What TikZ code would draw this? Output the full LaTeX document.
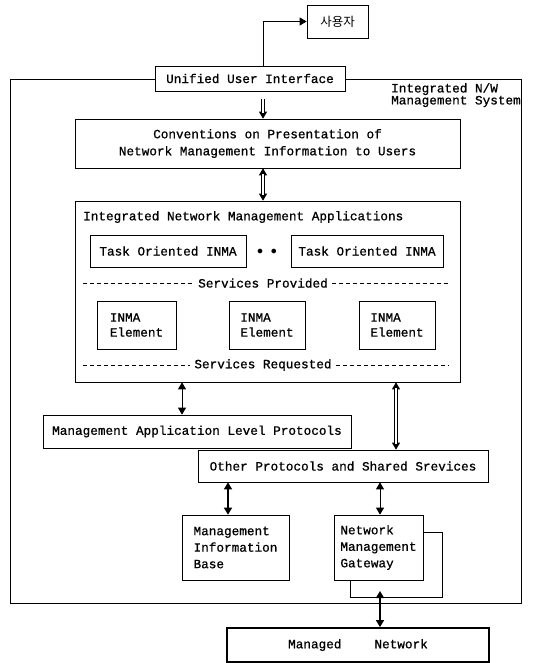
\documentclass[tikz,border=0pt]{standalone}
\usepackage{fontspec}
\setmonofont{Liberation Mono}[FakeBold=0.8]
\newfontfamily\korfont{Noto Sans CJK KR}
\usetikzlibrary{arrows.meta}
\tikzset{
    %Define standard arrow tip
    >={Triangle[width=8pt,length=7pt]},
}

\begin{document}
\begin{tikzpicture}[
  x=1pt, y=-1pt,
  every node/.style = {shape=rectangle, align=center, inner sep=0pt,
                       font=\ttfamily\fontsize{12.7}{17}\selectfont},
  bx/.style = {draw, line width=.7pt, fill=white},
  txt/.style = {align=left},
  gap/.style = {white, line width=1.9pt, shorten <=6pt, shorten >=6pt},
  lft/.style = {line width=.6pt, transform canvas={xshift=-1.3pt}},
  rgt/.style = {line width=.6pt, transform canvas={xshift=1.3pt}},
  svc/.style = {line width=.7pt, dash pattern=on 4pt off 3pt},
  con/.style = {line width=.8pt} ]
  \useasboundingbox (0,0) rectangle (541,663);
  % columns of the connectors
  \coordinate (colM) at (263,0);
  \coordinate (colA) at (182,0);
  \coordinate (colB) at (396,0);
  \coordinate (colC) at (228,0);
  \coordinate (colD) at (380,0);
  % whole system
  \node [draw, line width=.7pt, minimum width=511, minimum height=524] (sys) at (265.5,341) {};
  \node [txt, anchor=north west, font=\ttfamily\fontsize{12.7}{12}\selectfont]
    (sysname) at (391,83) {Integrated N/W\\Management System};
  \node [bx, minimum width=61, minimum height=33, font=\korfont\fontsize{12.5}{14}\selectfont]
    (user) at (337.5,21.5) {사용자};
  \node [bx, minimum width=190, minimum height=25] (uui) at (250,78.5) {Unified User Interface};
  \node [bx, minimum width=385, minimum height=49] (conv) at (267.5,143.5)
    {Conventions on Presentation of\\Network Management Information to Users};
  % applications
  \node [bx, minimum width=385, minimum height=181] (inma) at (267.5,291.5) {};
  \node [anchor=west] (inmatitle) at (83,217) {Integrated Network Management Applications};
  \node [bx, minimum width=156, minimum height=32] (task1) at (168,251) {Task Oriented INMA};
  \node [bx, minimum width=152, minimum height=32] (task2) at (367,251) {Task Oriented INMA};
  \node (dots) at (267,252) {$\bullet$\hspace{8pt}$\bullet$};
  \coordinate (provL) at (83,283);
  \coordinate (provR) at (448,283);
  \node [fill=white, inner xsep=4pt] (prov) at (263,283) {Services Provided};
  \draw [svc] (provL) -- (prov.west);
  \draw [svc] (prov.east) -- (provR);
  \foreach \name/\x/\w in {elem1/136.5/79, elem2/267/76, elem3/397/76}
    \node [bx, txt, minimum width=\w, minimum height=48,
           font=\ttfamily\fontsize{12.7}{15}\selectfont] (\name) at (\x,325) {INMA\\Element};
  \coordinate (reqL) at (83,365);
  \coordinate (reqR) at (448,365);
  \node [fill=white, inner xsep=4pt] (req) at (263,365) {Services Requested};
  \draw [svc] (reqL) -- (req.west);
  \draw [svc] (req.east) -- (reqR);
  % protocols
  \node [bx, minimum width=308, minimum height=33] (malp) at (197,431.5)
    {Management Application Level Protocols};
  \node [bx, minimum width=290, minimum height=32] (opss) at (343,466)
    {Other Protocols and Shared Srevices};
  \node [bx, txt, minimum width=107, minimum height=65,
         font=\ttfamily\fontsize{12.7}{16.5}\selectfont] (mib) at (235.5,547.5)
    {Management\\Information\\Base};
  \node [bx, txt, minimum width=89, minimum height=65,
         font=\ttfamily\fontsize{12.7}{16.5}\selectfont] (nmg) at (378.5,547.5)
    {Network\\Management\\Gateway};
  \node [bx, line width=1.8pt, minimum width=262, minimum height=34] (mn) at (358,645)
    {Managed\hspace{33pt}Network};
  % connectors
  \draw [con, ->] (uui.north -| colM) |- (user.west);
  \draw [con, ->, shorten <=8pt] (uui.south -| colM) -- (conv.north -| colM);
  \draw [con, <->] (conv.south -| colM) -- (inma.north -| colM);
  \draw [con, <->] (inma.south -| colB) -- (opss.north -| colB);
  \draw [gap, shorten <=8pt] (uui.south -| colM) -- (conv.north -| colM);
  \draw [gap] (conv.south -| colM) -- (inma.north -| colM);
  \draw [gap] (inma.south -| colB) -- (opss.north -| colB);
  \foreach \side in {lft, rgt} {
    \draw [\side, shorten <=8pt, shorten >=6pt] (uui.south -| colM) -- (conv.north -| colM);
    \draw [\side, shorten <=6pt, shorten >=6pt] (conv.south -| colM) -- (inma.north -| colM);
    \draw [\side, shorten <=6pt, shorten >=6pt] (inma.south -| colB) -- (opss.north -| colB);
  }
  \draw [con, <->] (inma.south -| colA) -- (malp.north -| colA);
  \draw [con, line width=1.6pt, <->] (opss.south -| colC) -- (mib.north -| colC);
  \draw [con, <->] (opss.south -| colD) -- (nmg.north -| colD);
  % gateway loop
  \coordinate (loopL) at (350,597);
  \coordinate (loopR) at (442,597);
  \coordinate (loopT) at (442,532);
  \coordinate (loopTip) at (380,591);
  \draw [con] (nmg.south -| loopL) -- (loopL) -- (loopR) -- (loopT) -- (loopT -| nmg.east);
  \draw [con, line width=1.4pt, <->] (loopTip) -- (mn.north -| loopTip);
\end{tikzpicture}
\end{document}
